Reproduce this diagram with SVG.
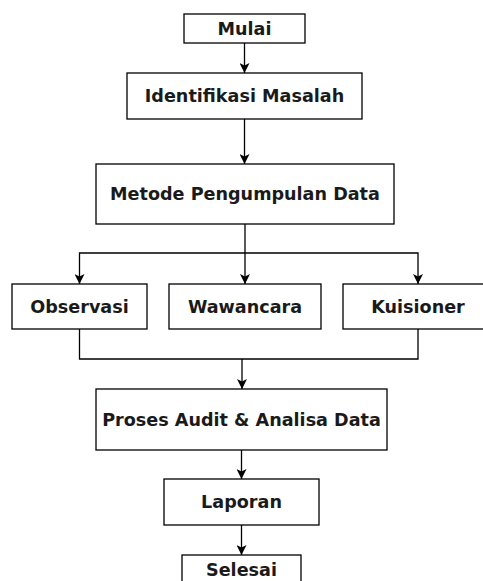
<svg xmlns="http://www.w3.org/2000/svg" width="483" height="581" viewBox="0 0 483 581">
<defs>
<style>
.box{fill:#fff;stroke:#000;stroke-width:1.3}
.lbl{font-family:"DejaVu Sans",Verdana,sans-serif;font-weight:bold;font-size:17.6px;fill:#1a1a1a;text-anchor:middle}
.edge{fill:none;stroke:#000;stroke-width:1.3}
</style>
<marker id="arr" viewBox="0 0 10 10" refX="10" refY="5" markerWidth="10" markerHeight="10" markerUnits="userSpaceOnUse" orient="auto">
<path d="M0,0 L10,5 L0,10 L2.5,5 Z" fill="#000"/>
</marker>
</defs>
<rect width="483" height="581" fill="#fff"/>
<g id="connectors">
<path class="edge" d="M244.5,43 V73" marker-end="url(#arr)"/>
<path class="edge" d="M244.5,119 V164" marker-end="url(#arr)"/>
<path class="edge" d="M245,224 V284" marker-end="url(#arr)"/>
<path class="edge" d="M245,253 H79.5 V284" marker-end="url(#arr)"/>
<path class="edge" d="M245,253 H418 V284" marker-end="url(#arr)"/>
<path class="edge" d="M79.5,329 V359 H418 V329"/>
<path class="edge" d="M242,359 V389" marker-end="url(#arr)"/>
<path class="edge" d="M241.5,450 V479" marker-end="url(#arr)"/>
<path class="edge" d="M241.5,525 V555" marker-end="url(#arr)"/>
</g>
<g id="mulai"><rect class="box" x="184" y="14" width="121" height="29"/><text class="lbl" x="244.5" y="34.8">Mulai</text></g>
<g id="identifikasi"><rect class="box" x="127" y="73" width="235" height="46"/><text class="lbl" x="244.5" y="102.4">Identifikasi Masalah</text></g>
<g id="metode"><rect class="box" x="96" y="164" width="298" height="60"/><text class="lbl" x="245" y="200.4">Metode Pengumpulan Data</text></g>
<g id="observasi"><rect class="box" x="12" y="284" width="135" height="45"/><text class="lbl" x="79.5" y="313">Observasi</text></g>
<g id="wawancara"><rect class="box" x="169" y="284" width="152" height="45"/><text class="lbl" x="245" y="313">Wawancara</text></g>
<g id="kuisioner"><rect class="box" x="343" y="284" width="150" height="45"/><text class="lbl" x="418" y="313">Kuisioner</text></g>
<g id="proses"><rect class="box" x="96" y="389" width="291" height="61"/><text class="lbl" x="241.5" y="426">Proses Audit &amp; Analisa Data</text></g>
<g id="laporan"><rect class="box" x="164" y="479" width="155" height="46"/><text class="lbl" x="241.5" y="508.4">Laporan</text></g>
<g id="selesai"><rect class="box" x="182" y="555" width="119" height="30"/><text class="lbl" x="241.5" y="576.4">Selesai</text></g>
</svg>
